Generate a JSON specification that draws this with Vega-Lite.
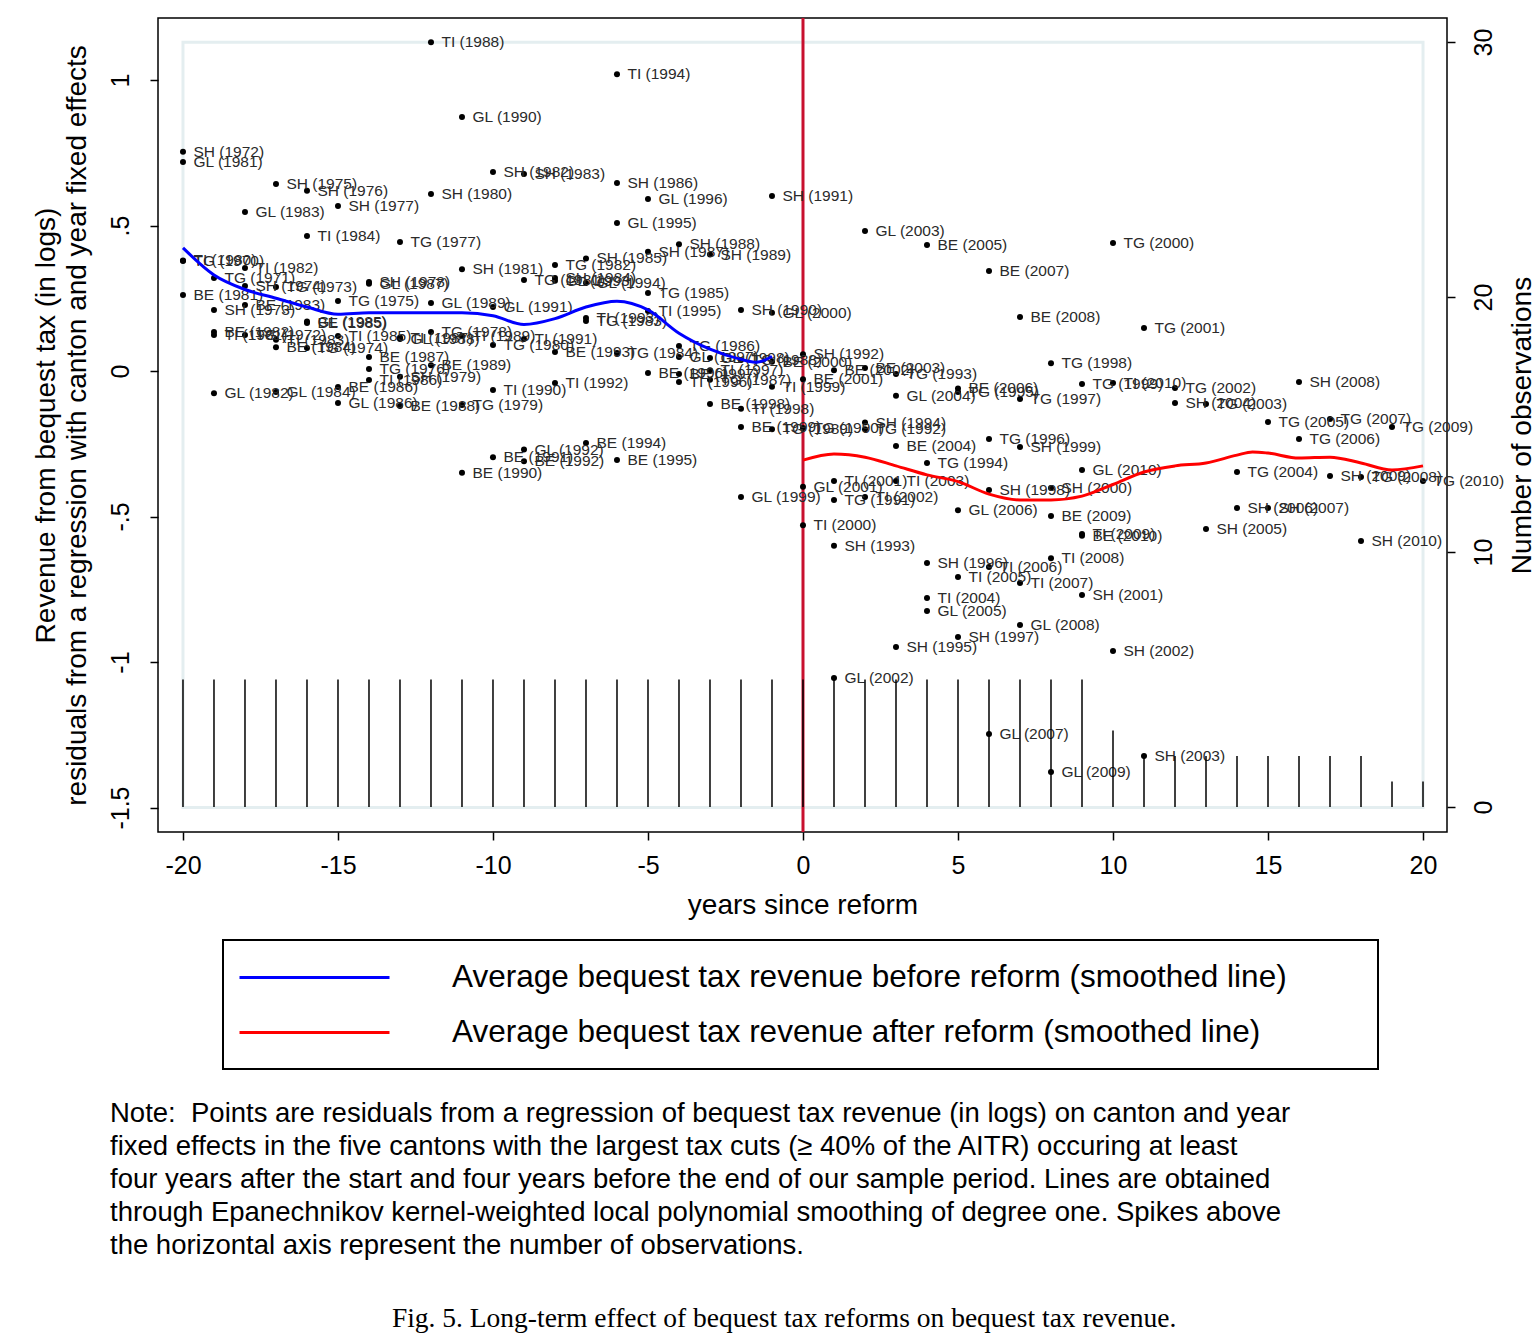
{
  "$schema": "https://vega.github.io/schema/vega-lite/v6.json",
  "width": 1289,
  "height": 814,
  "autosize": "none",
  "padding": {"left": 158, "top": 18, "right": 92, "bottom": 504},
  "background": "white",
  "config": {
    "font": "Liberation Sans",
    "view": {"stroke": "black", "strokeWidth": 1.5},
    "legend": {"strokeWidth": 2},
    "axis": {"grid": false, "domain": false, "tickColor": "black", "tickWidth": 1.5, "tickSize": 8, "labelColor": "black", "titleColor": "black", "labelFontSize": 25, "titleFontSize": 28, "titleFontWeight": "normal", "labelFont": "Liberation Sans", "titleFont": "Liberation Sans"},
    "axisBottom": {"labelPadding": 13, "titlePadding": 13},
    "axisLeft": {"labelAngle": -90, "labelAlign": "center", "labelBaseline": "bottom", "labelPadding": 17, "titlePadding": 17, "titleLineHeight": 31},
    "axisRight": {"labelAngle": -90, "labelAlign": "center", "labelBaseline": "top", "labelPadding": 16, "titlePadding": 12, "titleAngle": -90, "titleBaseline": "top"}
  },
  "title": {
    "text": [
      "Note:\u00a0 Points are residuals from a regression of bequest tax revenue (in logs) on canton and year",
      "fixed effects in the five cantons with the largest tax cuts (≥ 40% of the AITR) occuring at least",
      "four years after the start and four years before the end of our sample period. Lines are obtained",
      "through Epanechnikov kernel-weighted local polynomial smoothing of degree one. Spikes above",
      "the horizontal axis represent the number of observations."
    ],
    "subtitle": "\u200b\u00a0\u00a0\u00a0\u00a0\u00a0\u00a0\u00a0\u00a0\u00a0\u00a0\u00a0\u00a0\u00a0\u00a0\u00a0\u00a0\u00a0\u00a0\u00a0\u00a0\u00a0\u00a0\u00a0\u00a0\u00a0\u00a0\u00a0\u00a0\u00a0\u00a0\u00a0\u00a0\u00a0\u00a0\u00a0\u00a0\u00a0\u00a0\u00a0\u00a0\u00a0Fig. 5. Long-term effect of bequest tax reforms on bequest tax revenue.",
    "orient": "bottom",
    "anchor": "start",
    "frame": "group",
    "dx": -48,
    "offset": 30,
    "font": "Liberation Sans",
    "fontSize": 27.5,
    "fontWeight": "normal",
    "lineHeight": 33,
    "color": "black",
    "subtitleFont": "Liberation Serif",
    "subtitleFontSize": 27.5,
    "subtitleColor": "black",
    "subtitlePadding": 45
  },
  "datasets": {
    "pts": [
      {"lab": "SH (1972)", "x": -20, "y": 0.753}, {"lab": "GL (1981)", "x": -20, "y": 0.718}, {"lab": "TI (1980)", "x": -20, "y": 0.38}, {"lab": "TG (1970)", "x": -20, "y": 0.378}, {"lab": "BE (1981)", "x": -20, "y": 0.261},
      {"lab": "TG (1971)", "x": -19, "y": 0.32}, {"lab": "SH (1973)", "x": -19, "y": 0.21}, {"lab": "BE (1982)", "x": -19, "y": 0.134}, {"lab": "TI (1981)", "x": -19, "y": 0.124}, {"lab": "GL (1982)", "x": -19, "y": -0.076},
      {"lab": "GL (1983)", "x": -18, "y": 0.546}, {"lab": "TI (1982)", "x": -18, "y": 0.354}, {"lab": "SH (1974)", "x": -18, "y": 0.292}, {"lab": "BE (1983)", "x": -18, "y": 0.227}, {"lab": "TG (1972)", "x": -18, "y": 0.124},
      {"lab": "SH (1975)", "x": -17, "y": 0.643}, {"lab": "TG (1973)", "x": -17, "y": 0.289}, {"lab": "TI (1983)", "x": -17, "y": 0.107}, {"lab": "BE (1984)", "x": -17, "y": 0.082}, {"lab": "GL (1984)", "x": -17, "y": -0.072},
      {"lab": "SH (1976)", "x": -16, "y": 0.619}, {"lab": "TI (1984)", "x": -16, "y": 0.464}, {"lab": "GL (1985)", "x": -16, "y": 0.17}, {"lab": "BE (1985)", "x": -16, "y": 0.165}, {"lab": "TG (1974)", "x": -16, "y": 0.079},
      {"lab": "SH (1977)", "x": -15, "y": 0.567}, {"lab": "TG (1975)", "x": -15, "y": 0.241}, {"lab": "TI (1985)", "x": -15, "y": 0.12}, {"lab": "BE (1986)", "x": -15, "y": -0.055}, {"lab": "GL (1986)", "x": -15, "y": -0.11},
      {"lab": "SH (1978)", "x": -14, "y": 0.306}, {"lab": "GL (1987)", "x": -14, "y": 0.3}, {"lab": "BE (1987)", "x": -14, "y": 0.048}, {"lab": "TG (1976)", "x": -14, "y": 0.007}, {"lab": "TI (1986)", "x": -14, "y": -0.031},
      {"lab": "TG (1977)", "x": -13, "y": 0.443}, {"lab": "TI (1987)", "x": -13, "y": 0.115}, {"lab": "GL (1988)", "x": -13, "y": 0.11}, {"lab": "SH (1979)", "x": -13, "y": -0.02}, {"lab": "BE (1988)", "x": -13, "y": -0.12},
      {"lab": "TI (1988)", "x": -12, "y": 1.13}, {"lab": "SH (1980)", "x": -12, "y": 0.608}, {"lab": "GL (1989)", "x": -12, "y": 0.234}, {"lab": "TG (1978)", "x": -12, "y": 0.134}, {"lab": "BE (1989)", "x": -12, "y": 0.02},
      {"lab": "GL (1990)", "x": -11, "y": 0.873}, {"lab": "SH (1981)", "x": -11, "y": 0.35}, {"lab": "TI (1989)", "x": -11, "y": 0.12}, {"lab": "TG (1979)", "x": -11, "y": -0.117}, {"lab": "BE (1990)", "x": -11, "y": -0.35},
      {"lab": "SH (1982)", "x": -10, "y": 0.684}, {"lab": "GL (1991)", "x": -10, "y": 0.22}, {"lab": "TG (1980)", "x": -10, "y": 0.089}, {"lab": "TI (1990)", "x": -10, "y": -0.065}, {"lab": "BE (1991)", "x": -10, "y": -0.296},
      {"lab": "SH (1983)", "x": -9, "y": 0.677}, {"lab": "TG (1981)", "x": -9, "y": 0.313}, {"lab": "TI (1991)", "x": -9, "y": 0.11}, {"lab": "GL (1992)", "x": -9, "y": -0.27}, {"lab": "BE (1992)", "x": -9, "y": -0.31},
      {"lab": "TG (1982)", "x": -8, "y": 0.364}, {"lab": "SH (1984)", "x": -8, "y": 0.32}, {"lab": "GL (1993)", "x": -8, "y": 0.31}, {"lab": "BE (1993)", "x": -8, "y": 0.065}, {"lab": "TI (1992)", "x": -8, "y": -0.041},
      {"lab": "SH (1985)", "x": -7, "y": 0.387}, {"lab": "GL (1994)", "x": -7, "y": 0.302}, {"lab": "TI (1993)", "x": -7, "y": 0.182}, {"lab": "TG (1983)", "x": -7, "y": 0.172}, {"lab": "BE (1994)", "x": -7, "y": -0.247},
      {"lab": "TI (1994)", "x": -6, "y": 1.02}, {"lab": "SH (1986)", "x": -6, "y": 0.646}, {"lab": "GL (1995)", "x": -6, "y": 0.509}, {"lab": "TG (1984)", "x": -6, "y": 0.062}, {"lab": "BE (1995)", "x": -6, "y": -0.306},
      {"lab": "GL (1996)", "x": -5, "y": 0.591}, {"lab": "SH (1987)", "x": -5, "y": 0.41}, {"lab": "TG (1985)", "x": -5, "y": 0.268}, {"lab": "TI (1995)", "x": -5, "y": 0.206}, {"lab": "BE (1996)", "x": -5, "y": -0.007},
      {"lab": "SH (1988)", "x": -4, "y": 0.436}, {"lab": "TG (1986)", "x": -4, "y": 0.086}, {"lab": "GL (1997)", "x": -4, "y": 0.048}, {"lab": "BE (1997)", "x": -4, "y": -0.01}, {"lab": "TI (1996)", "x": -4, "y": -0.038},
      {"lab": "SH (1989)", "x": -3, "y": 0.4}, {"lab": "GL (1998)", "x": -3, "y": 0.045}, {"lab": "TI (1997)", "x": -3, "y": 0.003}, {"lab": "TG (1987)", "x": -3, "y": -0.03}, {"lab": "BE (1998)", "x": -3, "y": -0.113},
      {"lab": "SH (1990)", "x": -2, "y": 0.21}, {"lab": "TG (1988)", "x": -2, "y": 0.038}, {"lab": "TI (1998)", "x": -2, "y": -0.13}, {"lab": "BE (1999)", "x": -2, "y": -0.192}, {"lab": "GL (1999)", "x": -2, "y": -0.433},
      {"lab": "SH (1991)", "x": -1, "y": 0.601}, {"lab": "GL (2000)", "x": -1, "y": 0.2}, {"lab": "BE (2000)", "x": -1, "y": 0.032}, {"lab": "TI (1999)", "x": -1, "y": -0.054}, {"lab": "TG (1989)", "x": -1, "y": -0.2},
      {"lab": "SH (1992)", "x": 0, "y": 0.058}, {"lab": "BE (2001)", "x": 0, "y": -0.028}, {"lab": "TG (1990)", "x": 0, "y": -0.196}, {"lab": "GL (2001)", "x": 0, "y": -0.398}, {"lab": "TI (2000)", "x": 0, "y": -0.53},
      {"lab": "BE (2002)", "x": 1, "y": 0.003}, {"lab": "TI (2001)", "x": 1, "y": -0.378}, {"lab": "TG (1991)", "x": 1, "y": -0.443}, {"lab": "SH (1993)", "x": 1, "y": -0.6}, {"lab": "GL (2002)", "x": 1, "y": -1.055},
      {"lab": "GL (2003)", "x": 2, "y": 0.481}, {"lab": "BE (2003)", "x": 2, "y": 0.01}, {"lab": "SH (1994)", "x": 2, "y": -0.177}, {"lab": "TG (1992)", "x": 2, "y": -0.2}, {"lab": "TI (2002)", "x": 2, "y": -0.433},
      {"lab": "TG (1993)", "x": 3, "y": -0.01}, {"lab": "GL (2004)", "x": 3, "y": -0.085}, {"lab": "BE (2004)", "x": 3, "y": -0.258}, {"lab": "TI (2003)", "x": 3, "y": -0.378}, {"lab": "SH (1995)", "x": 3, "y": -0.948},
      {"lab": "BE (2005)", "x": 4, "y": 0.433}, {"lab": "TG (1994)", "x": 4, "y": -0.316}, {"lab": "SH (1996)", "x": 4, "y": -0.66}, {"lab": "TI (2004)", "x": 4, "y": -0.78}, {"lab": "GL (2005)", "x": 4, "y": -0.825},
      {"lab": "BE (2006)", "x": 5, "y": -0.06}, {"lab": "TG (1995)", "x": 5, "y": -0.072}, {"lab": "GL (2006)", "x": 5, "y": -0.478}, {"lab": "TI (2005)", "x": 5, "y": -0.708}, {"lab": "SH (1997)", "x": 5, "y": -0.914},
      {"lab": "BE (2007)", "x": 6, "y": 0.344}, {"lab": "TG (1996)", "x": 6, "y": -0.234}, {"lab": "SH (1998)", "x": 6, "y": -0.409}, {"lab": "TI (2006)", "x": 6, "y": -0.673}, {"lab": "GL (2007)", "x": 6, "y": -1.247},
      {"lab": "BE (2008)", "x": 7, "y": 0.186}, {"lab": "TG (1997)", "x": 7, "y": -0.096}, {"lab": "SH (1999)", "x": 7, "y": -0.261}, {"lab": "TI (2007)", "x": 7, "y": -0.728}, {"lab": "GL (2008)", "x": 7, "y": -0.873},
      {"lab": "TG (1998)", "x": 8, "y": 0.027}, {"lab": "SH (2000)", "x": 8, "y": -0.402}, {"lab": "BE (2009)", "x": 8, "y": -0.498}, {"lab": "TI (2008)", "x": 8, "y": -0.643}, {"lab": "GL (2009)", "x": 8, "y": -1.378},
      {"lab": "TG (1999)", "x": 9, "y": -0.045}, {"lab": "GL (2010)", "x": 9, "y": -0.34}, {"lab": "TI (2009)", "x": 9, "y": -0.56}, {"lab": "BE (2010)", "x": 9, "y": -0.566}, {"lab": "SH (2001)", "x": 9, "y": -0.77},
      {"lab": "TG (2000)", "x": 10, "y": 0.44}, {"lab": "TI (2010)", "x": 10, "y": -0.041}, {"lab": "SH (2002)", "x": 10, "y": -0.962},
      {"lab": "TG (2001)", "x": 11, "y": 0.148}, {"lab": "SH (2003)", "x": 11, "y": -1.323},
      {"lab": "TG (2002)", "x": 12, "y": -0.058}, {"lab": "SH (2004)", "x": 12, "y": -0.11},
      {"lab": "TG (2003)", "x": 13, "y": -0.113}, {"lab": "SH (2005)", "x": 13, "y": -0.543},
      {"lab": "TG (2004)", "x": 14, "y": -0.347}, {"lab": "SH (2006)", "x": 14, "y": -0.471},
      {"lab": "TG (2005)", "x": 15, "y": -0.175}, {"lab": "SH (2007)", "x": 15, "y": -0.471},
      {"lab": "SH (2008)", "x": 16, "y": -0.038}, {"lab": "TG (2006)", "x": 16, "y": -0.234},
      {"lab": "TG (2007)", "x": 17, "y": -0.165}, {"lab": "SH (2009)", "x": 17, "y": -0.361},
      {"lab": "TG (2008)", "x": 18, "y": -0.364}, {"lab": "SH (2010)", "x": 18, "y": -0.584},
      {"lab": "TG (2009)", "x": 19, "y": -0.192},
      {"lab": "TG (2010)", "x": 20, "y": -0.378}
    ],
    "smooth": [
      {"s": "before", "x": -20, "y": 0.423}, {"s": "before", "x": -19, "y": 0.33}, {"s": "before", "x": -18, "y": 0.28}, {"s": "before", "x": -17, "y": 0.25},
      {"s": "before", "x": -16, "y": 0.22}, {"s": "before", "x": -15, "y": 0.195}, {"s": "before", "x": -14, "y": 0.2}, {"s": "before", "x": -13, "y": 0.2},
      {"s": "before", "x": -12, "y": 0.2}, {"s": "before", "x": -11, "y": 0.2}, {"s": "before", "x": -10, "y": 0.19}, {"s": "before", "x": -9, "y": 0.16},
      {"s": "before", "x": -8, "y": 0.18}, {"s": "before", "x": -7, "y": 0.22}, {"s": "before", "x": -6, "y": 0.24}, {"s": "before", "x": -5, "y": 0.21},
      {"s": "before", "x": -4, "y": 0.13}, {"s": "before", "x": -3, "y": 0.075}, {"s": "before", "x": -2, "y": 0.04}, {"s": "before", "x": -1.5, "y": 0.03},
      {"s": "before", "x": -1, "y": 0.05},
      {"s": "after", "x": 0, "y": -0.306}, {"s": "after", "x": 1, "y": -0.285}, {"s": "after", "x": 2, "y": -0.296}, {"s": "after", "x": 3, "y": -0.326},
      {"s": "after", "x": 4, "y": -0.357}, {"s": "after", "x": 5, "y": -0.38}, {"s": "after", "x": 6, "y": -0.423}, {"s": "after", "x": 7, "y": -0.443},
      {"s": "after", "x": 8, "y": -0.443}, {"s": "after", "x": 9, "y": -0.43}, {"s": "after", "x": 10, "y": -0.39}, {"s": "after", "x": 11, "y": -0.347},
      {"s": "after", "x": 12, "y": -0.326}, {"s": "after", "x": 13, "y": -0.316}, {"s": "after", "x": 14, "y": -0.289}, {"s": "after", "x": 14.5, "y": -0.278},
      {"s": "after", "x": 15, "y": -0.282}, {"s": "after", "x": 16, "y": -0.299}, {"s": "after", "x": 17, "y": -0.296}, {"s": "after", "x": 18, "y": -0.316},
      {"s": "after", "x": 19, "y": -0.34}, {"s": "after", "x": 20, "y": -0.326}
    ]
  },
  "layer": [
    {
      "layer": [
        {
          "data": {"values": [{}]},
          "mark": {"type": "rect", "fill": null, "stroke": "#e4eef0", "strokeWidth": 3},
          "encoding": {
            "x": {"datum": -20, "type": "quantitative", "scale": {"domain": [-20.806, 20.774], "nice": false, "zero": false}, "title": "years since reform"},
            "x2": {"datum": 20},
            "y": {"datum": -1.5, "type": "quantitative", "scale": {"domain": [-1.584, 1.213], "nice": false, "zero": false}, "title": ["Revenue from bequest tax (in logs)", "residuals from a regression with canton and year fixed effects"]},
            "y2": {"datum": 1.13}
          }
        },
        {
          "data": {"values": [{}]},
          "mark": {"type": "rule", "color": "#c8102e", "strokeWidth": 3},
          "encoding": {
            "x": {"datum": 0, "type": "quantitative", "scale": {"domain": [-20.806, 20.774], "nice": false, "zero": false}, "title": "years since reform"}
          }
        },
        {
          "data": {"name": "pts"},
          "mark": {"type": "circle", "size": 36, "color": "black", "opacity": 1},
          "encoding": {
            "x": {"field": "x", "type": "quantitative", "scale": {"domain": [-20.806, 20.774], "nice": false, "zero": false}, "title": "years since reform",
                  "axis": {"values": [-20, -15, -10, -5, 0, 5, 10, 15, 20], "labelExpr": "toString(datum.value)"}},
            "y": {"field": "y", "type": "quantitative", "scale": {"domain": [-1.584, 1.213], "nice": false, "zero": false}, "title": ["Revenue from bequest tax (in logs)", "residuals from a regression with canton and year fixed effects"],
                  "axis": {"orient": "left", "values": [-1.5, -1, -0.5, 0, 0.5, 1], "labelExpr": "replace(toString(datum.value), '0.', '.')"}}
          }
        },
        {
          "data": {"name": "pts"},
          "mark": {"type": "text", "align": "left", "baseline": "middle", "dx": 10.5, "fontSize": 15.5, "color": "#2a2a2a", "font": "Liberation Sans"},
          "encoding": {
            "x": {"field": "x", "type": "quantitative", "scale": {"domain": [-20.806, 20.774], "nice": false, "zero": false}, "title": "years since reform"},
            "y": {"field": "y", "type": "quantitative", "scale": {"domain": [-1.584, 1.213], "nice": false, "zero": false}, "title": ["Revenue from bequest tax (in logs)", "residuals from a regression with canton and year fixed effects"]},
            "text": {"field": "lab"}
          }
        },
        {
          "data": {"name": "smooth"},
          "mark": {"type": "line", "strokeWidth": 3, "interpolate": "monotone"},
          "encoding": {
            "x": {"field": "x", "type": "quantitative", "scale": {"domain": [-20.806, 20.774], "nice": false, "zero": false}, "title": "years since reform"},
            "y": {"field": "y", "type": "quantitative", "scale": {"domain": [-1.584, 1.213], "nice": false, "zero": false}, "title": ["Revenue from bequest tax (in logs)", "residuals from a regression with canton and year fixed effects"]},
            "color": {
              "field": "s", "type": "nominal",
              "scale": {"domain": ["before", "after"], "range": ["#0000ff", "#ff0000"]},
              "legend": {
                "orient": "none", "legendX": 65, "legendY": 922, "title": null, "direction": "vertical",
                "strokeColor": "black", "padding": 21,
                "symbolType": "M-5,0H5", "symbolSize": 900, "symbolStrokeWidth": 3, "symbolOffset": 54,
                "labelOffset": 121, "labelFontSize": 31.5, "labelFont": "Liberation Sans", "labelColor": "black", "labelLimit": 0,
                "rowPadding": 23,
                "labelExpr": "(datum.value == 'before' ? 'Average bequest tax revenue before reform (smoothed line)' : 'Average bequest tax revenue after reform (smoothed line)') + '\u00a0\u00a0\u00a0\u00a0\u00a0\u00a0\u00a0\u00a0\u200b'"
              }
            }
          }
        }
      ]
    },
    {
      "data": {"name": "pts"},
      "transform": [{"aggregate": [{"op": "count", "as": "n"}], "groupby": ["x"]}],
      "mark": {"type": "rule", "color": "black", "strokeWidth": 1.5},
      "encoding": {
        "x": {"field": "x", "type": "quantitative", "scale": {"domain": [-20.806, 20.774], "nice": false, "zero": false}, "title": "years since reform"},
        "y": {"field": "n", "type": "quantitative", "scale": {"domain": [-0.98, 30.94], "nice": false, "zero": false}, "title": "Number of observations",
              "axis": {"orient": "right", "values": [0, 10, 20, 30]}},
        "y2": {"datum": 0}
      }
    }
  ],
  "resolve": {"scale": {"y": "independent"}}
}
